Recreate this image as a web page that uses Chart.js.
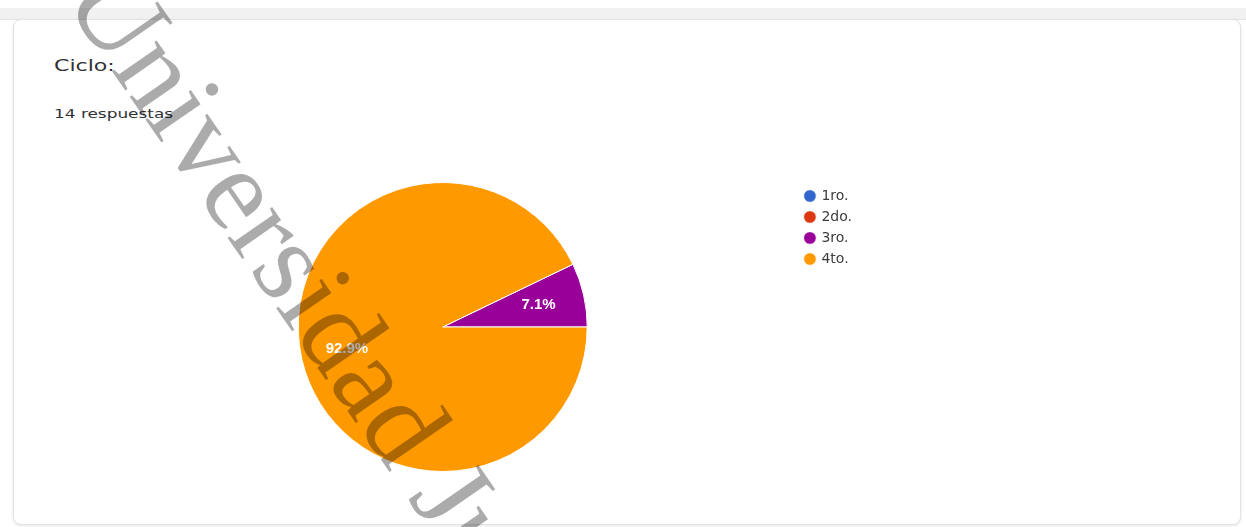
<!DOCTYPE html>
<html>
<head>
<meta charset="utf-8">
<title>Ciclo</title>
<script src="https://cdn.jsdelivr.net/npm/chart.js@4.4.1/dist/chart.umd.min.js"></script>
<style>
    html, body {
        margin: 0;
        padding: 0;
        width: 1246px;
        height: 527px;
        overflow: hidden;
        background: #fff;
    }
    .top-band {
        position: absolute;
        left: 0;
        top: 8px;
        width: 1246px;
        height: 11px;
        background: #f1f1f1;
        border-bottom: 1px solid #e4e4e4;
    }
    .card {
        position: absolute;
        left: 13px;
        top: 19px;
        width: 1226px;
        height: 504px;
        background: #fff;
        border: 1px solid #e3e3e3;
        border-radius: 8px;
        box-shadow: 0 1px 3px rgba(0, 0, 0, 0.10);
    }
    .question {
        position: absolute;
        left: 54px;
        top: 58px;
        font-family: "DejaVu Sans", sans-serif;
        font-size: 16px;
        line-height: 16px;
        color: #303134;
        transform: scaleX(1.38);
        transform-origin: 0 0;
        white-space: nowrap;
    }
    .answers {
        position: absolute;
        left: 54px;
        top: 107px;
        font-family: "DejaVu Sans", sans-serif;
        font-size: 13px;
        line-height: 13px;
        color: #303134;
        transform: scaleX(1.3);
        transform-origin: 0 0;
        white-space: nowrap;
    }
    #chart-wrap {
        position: absolute;
        left: 0;
        top: 0;
        width: 1246px;
        height: 527px;
    }
</style>
</head>
<body>
<div class="top-band"></div>
<div class="card"></div>
<div class="question">Ciclo:</div>
<div class="answers">14 respuestas</div>
<div id="chart-wrap"><canvas id="pie-chart"></canvas></div>

<script>
// answers per cycle
const cycles = ['1ro.', '2do.', '3ro.', '4to.'];
const counts = [0, 0, 1, 13];
const sliceColors = ['#3366cc', '#dc3912', '#990099', '#ff9900'];
const watermarkText = 'Universidad Juárez';

const total = counts.reduce((a, b) => a + b, 0);

// percentage text inside each non-empty slice
const sliceLabels = {
    id: 'sliceLabels',
    afterDatasetsDraw(chart) {
        const ctx = chart.ctx;
        const meta = chart.getDatasetMeta(0);
        ctx.save();
        ctx.font = 'bold 15px "Liberation Sans", Arial, sans-serif';
        ctx.fillStyle = '#ffffff';
        ctx.textAlign = 'center';
        ctx.textBaseline = 'middle';
        meta.data.forEach((arc, i) => {
            if (!counts[i]) return;
            const p = arc.getProps(['x', 'y', 'startAngle', 'endAngle', 'outerRadius'], true);
            const mid = (p.startAngle + p.endAngle) / 2;
            const r = p.outerRadius * 0.68;
            const pct = (counts[i] / total * 100).toFixed(1) + '%';
            ctx.fillText(pct, p.x + Math.cos(mid) * r, p.y + Math.sin(mid) * r);
        });
        ctx.restore();
    }
};

// diagonal stamp across the page
const stamp = {
    id: 'stamp',
    afterDraw(chart) {
        const ctx = chart.ctx;
        ctx.save();
        ctx.translate(62, -1);
        ctx.rotate(55.3 * Math.PI / 180);
        ctx.font = '118px "Liberation Serif", "Times New Roman", serif';
        ctx.fillStyle = 'rgba(0, 0, 0, 0.33)';
        ctx.textBaseline = 'alphabetic';
        ctx.fillText(watermarkText, 0, 0);
        ctx.restore();
    }
};

const ctx = document.getElementById('pie-chart').getContext('2d');

new Chart(ctx, {
    type: 'pie',
    data: {
        labels: cycles,
        datasets: [{
            data: counts,
            backgroundColor: sliceColors,
            borderColor: '#ffffff',
            borderWidth: 1
        }]
    },
    options: {
        responsive: true,
        maintainAspectRatio: false,
        animation: false,
        events: [],
        // third slice starts just above three o'clock, like the form summary
        rotation: 90 - 360 * counts[2] / total,
        layout: {
            padding: { left: 87, top: 182, right: 384, bottom: 55 }
        },
        plugins: {
            legend: {
                position: 'right',
                align: 'start',
                labels: {
                    usePointStyle: true,
                    pointStyle: 'circle',
                    boxWidth: 9,
                    boxHeight: 9,
                    padding: 7,
                    color: '#3c3c3c',
                    font: { family: '"DejaVu Sans", sans-serif', size: 14 }
                }
            },
            tooltip: { enabled: false }
        }
    },
    plugins: [sliceLabels, stamp]
});
</script>
</body>
</html>
